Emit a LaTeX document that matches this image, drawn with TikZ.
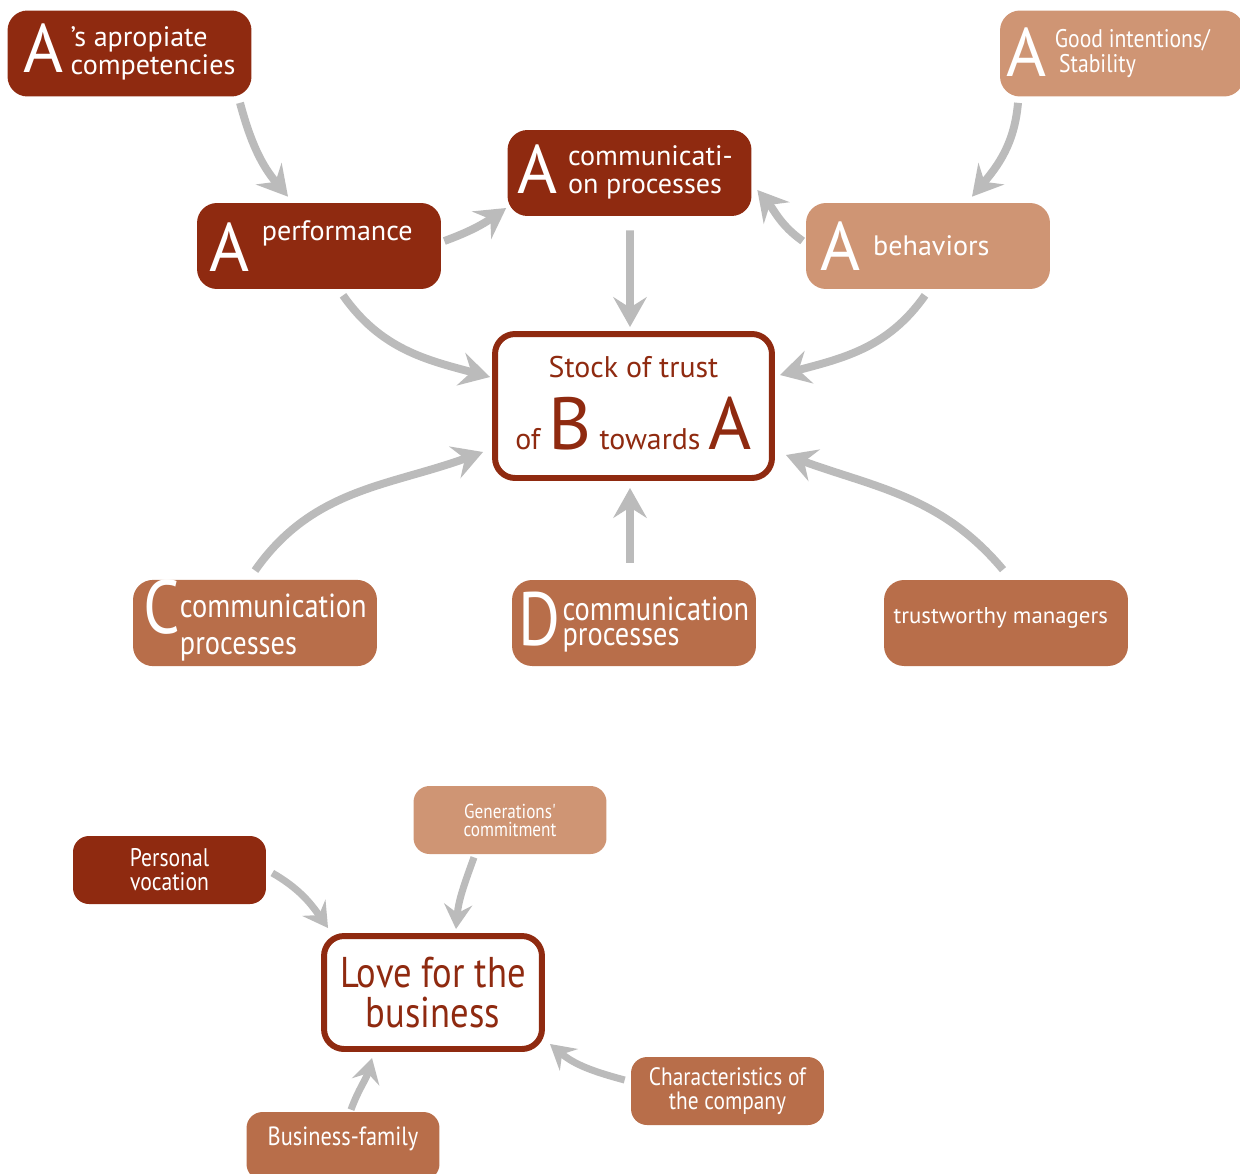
\documentclass[tikz,border=0pt]{standalone}
\usepackage{fontspec}
\setmainfont{PT Sans}
\newfontfamily\narrowfont[FakeStretch=0.85]{PT Sans}
\usepackage{xcolor}
\usetikzlibrary{arrows.meta, calc}
\definecolor{darkrust}{HTML}{8F2A10}
\definecolor{lighttan}{HTML}{CF9574}
\definecolor{midrust}{HTML}{B86E4A}
\definecolor{arrowgray}{HTML}{BBBBBB}
\newcommand{\bigltr}[1]{{\fontsize{39}{39}\selectfont #1}}
\newcommand{\twoline}[2]{\begin{tabular}[b]{@{}l@{}}#1\\#2\end{tabular}}
\begin{document}
\begin{tikzpicture}[
    x=0.02cm, y=0.02cm,
    tagbox/.style={rectangle, rounded corners=0.4cm, minimum width=4.88cm, minimum height=1.72cm, inner sep=0pt, text=white, font=\fontsize{16}{16}\selectfont},
    minibox/.style={rectangle, rounded corners=0.32cm, minimum width=3.86cm, minimum height=1.36cm, inner sep=0pt, text=white, align=center},
    hubbox/.style={rectangle, draw=darkrust, line width=3.4pt, rounded corners=0.4cm, fill=white, text=darkrust, inner sep=0pt, align=center},
    arrow/.style={-{Stealth[length=17pt, width=19pt, inset=6pt]}, line width=4.5pt, draw=arrowgray},
    arrowsm/.style={-{Stealth[length=14pt, width=16pt, inset=5pt]}, line width=4pt, draw=arrowgray},
]
    \useasboundingbox (0,0) rectangle (1240,-1173);

    \node[tagbox, fill=darkrust] (comp) at (129.5,-53.5) {\bigltr{A}\kern4pt\raisebox{-1.5pt}{\twoline{'s apropiate}{competencies}}};
    \node[tagbox, fill=darkrust] (perf) at (319,-246) {\bigltr{A}\kern7pt\raisebox{18pt}{performance}\kern9pt};
    \node[tagbox, fill=darkrust] (comm) at (629.5,-173) {\bigltr{A}\kern6pt\twoline{communicati-}{on processes}\kern5pt};
    \node[tagbox, fill=lighttan] (good) at (1122,-53.5) {\bigltr{A}\kern5pt\raisebox{2pt}{\narrowfont\fontsize{14.5}{13.6}\selectfont\twoline{Good intentions/}{\,Stability}}\kern16pt};
    \node[tagbox, fill=lighttan] (behav) at (928,-246) {\bigltr{A}\kern7pt\raisebox{8.5pt}{behaviors}\kern26pt};

    \node[hubbox, minimum width=5.54cm, minimum height=2.88cm] (stock) at (633.5,-406) {%
        \begin{tabular}{@{}c@{}}
        {\fontsize{17}{17}\selectfont Stock of trust}\\[7pt]
        {\fontsize{17}{17}\selectfont of {\fontsize{42}{42}\selectfont B} towards {\fontsize{42}{42}\selectfont A}}
        \end{tabular}};

    \node[tagbox, fill=midrust] (ccomm) at (255,-623) {{\narrowfont\fontsize{43}{43}\selectfont C}\raisebox{-12pt}{\narrowfont\fontsize{19}{21.5}\selectfont\twoline{communication}{processes}}};
    \node[tagbox, fill=midrust] (dcomm) at (634,-623) {{\narrowfont\fontsize{43}{43}\selectfont D}\kern1pt\raisebox{0pt}{\narrowfont\fontsize{19}{14.5}\selectfont\twoline{communication}{processes}}};
    \node[tagbox, fill=midrust, font=\fontsize{13}{13}\selectfont] (mgr) at (1006,-623) {\raisebox{8.5pt}{trustworthy managers}\kern6pt};

    \draw[arrow] ($(comp.south)+(110.5,-6)$) to[out=-75, in=130] ($(perf.north)+(-31,6)$);
    \draw[arrow] ($(perf.east)+(3,5)$) to[out=20, in=-145] ($(comm.west)+(-1,-35)$);
    \draw[arrow] ($(comm.south)+(0.5,-14)$) -- ($(stock.north)+(-3.5,4)$);
    \draw[arrow] ($(behav.west)+(-3,5)$) to[out=145, in=-50] ($(comm.east)+(5.5,-17)$);
    \draw[arrow] ($(good.south)+(-104,-6)$) to[out=-95, in=50] ($(behav.north)+(44,6)$);
    \draw[arrow] ($(perf.south)+(24,-6)$) to[out=-55, in=165] ($(stock.west)+(-2,29)$);
    \draw[arrow] ($(behav.south)+(-3,-6)$) to[out=-125, in=15] ($(stock.east)+(5,31)$);
    \draw[arrow] ($(ccomm.north)+(0,9)$) to[out=55, in=-160] ($(stock.west)+(-9,-46)$);
    \draw[arrow] ($(dcomm.north)+(-4,17)$) -- ($(stock.south)+(-3.5,-7)$);
    \draw[arrow] ($(mgr.north)+(-3,10)$) to[out=130, in=-20] ($(stock.east)+(11,-49)$);

    \node[minibox, fill=darkrust, font=\narrowfont\fontsize{14.5}{13.6}\selectfont] (pers) at (169.5,-870) {Personal\\vocation};
    \node[minibox, fill=lighttan, font=\narrowfont\fontsize{11.5}{10.2}\selectfont] (gen) at (510,-820) {Generations'\\commitment};
    \node[hubbox, minimum width=4.36cm, minimum height=2.26cm, font=\narrowfont\fontsize{24.5}{22.7}\selectfont] (love) at (433,-992.5) {Love for the\\business};
    \node[minibox, fill=midrust, font=\narrowfont\fontsize{14.3}{14}\selectfont] (chars) at (727.5,-1091) {Characteristics of\\the company};
    \node[minibox, fill=midrust, font=\narrowfont\fontsize{15}{15}\selectfont] (biz) at (343,-1146) {\raisebox{11pt}{Business-family}};

    \draw[arrowsm] ($(pers.east)+(6,-3)$) to[out=-30, in=125] ($(love.north west)+(7,5)$);
    \draw[arrowsm] ($(gen.south)+(-36,-3)$) to[out=-110, in=85] ($(love.north)+(23,4)$);
    \draw[arrowsm] ($(chars.west)+(-6,11)$) to[out=165, in=-40] ($(love.south east)+(5,8)$);
    \draw[arrowsm] ($(biz.north)+(8,2)$) to[out=70, in=-105] ($(love.south)+(-61,-6)$);
\end{tikzpicture}
\end{document}
